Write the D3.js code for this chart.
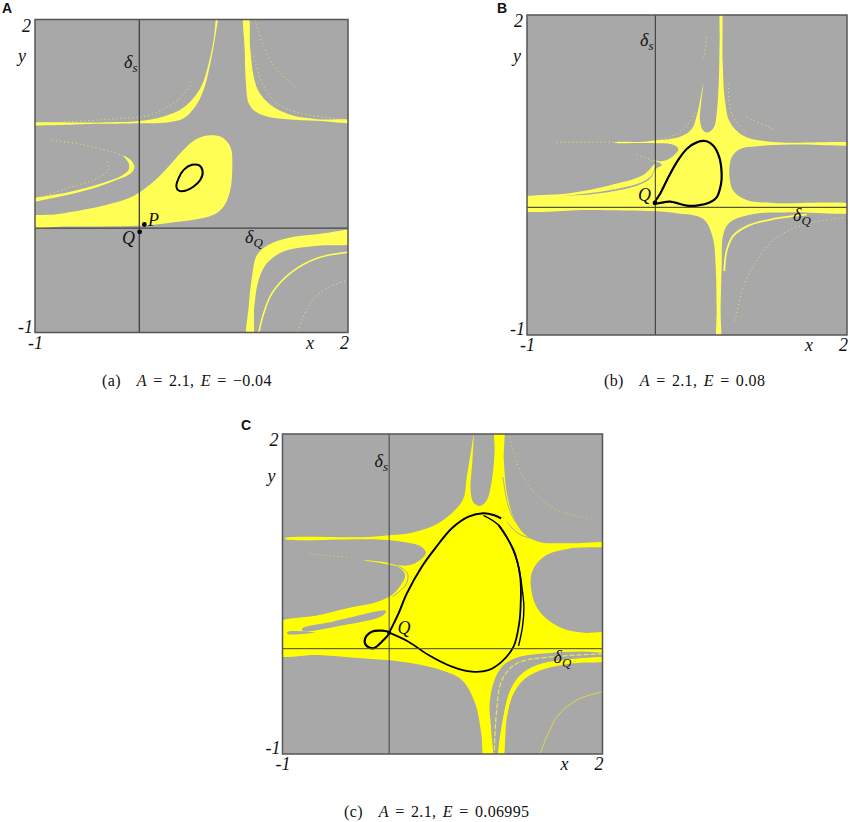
<!DOCTYPE html>
<html>
<head>
<meta charset="utf-8">
<script src="https://cdn.jsdelivr.net/npm/d3@7"></script>
<style>
	html, body { margin: 0; padding: 0; background: #fff; }
	text { font-family: "Liberation Serif", serif; fill: #111; }
	.panelLetter { font-family: "Liberation Sans", sans-serif; font-weight: bold; font-size: 14px; }
</style>
</head>
<body>
<svg id="figure" width="850" height="822"></svg>
<script>

// axis ends shared by the three basin plots, regions run a little past them
// so their closing curve stays outside the frame
var X_RANGE = [-1, 2];
var Y_RANGE = [-1, 2];

// panel A, A = 2.1, E = -0.04
var basinA = [[-1.1,.016],[-.693,.016],[-.374,.016],[0,.022],[.265,.048],[.521,.08],[.712,.128],[.808,.208],[.872,.367],[.891,.591],[.882,.751],[.84,.831],[.776,.879],[.681,.891],[.585,.872],[.489,.815],[.393,.719],[.265,.575],[.137,.447],[0,.342],[-.118,.281],[-.31,.224],[-.534,.176],[-.789,.134],[-1.1,.1]];
var upperRightA = [[1.003,2.1],[1.01,1.709],[1.022,1.39],[1.048,1.198],[1.112,1.118],[1.224,1.07],[1.415,1.045],[1.703,1.029],[2.1,1.01],[2.1,1.03],[1.703,1.045],[1.447,1.086],[1.256,1.182],[1.144,1.31],[1.096,1.454],[1.064,1.709],[1.038,2.1]];
var upperLeftA = [[-1.1,.994],[-.374,1],[0,1.006],[.265,1.013],[.425,1.054],[.537,1.166],[.617,1.326],[.681,1.581],[.728,1.837],[.76,2.1],[.75,2.1],[.712,1.805],[.665,1.581],[.601,1.374],[.505,1.23],[.393,1.134],[.233,1.07],[0,1.026],[-.374,1.013],[-1.1,1.003]];
var leftArcA = [[-1.1,.25],[-.693,.319],[-.406,.393],[-.214,.463],[-.102,.511],[-.048,.575],[-.07,.639],[-.15,.693],[-.102,.623],[-.102,.559],[-.166,.505],[-.374,.425],[-.693,.342],[-1.1,.265]];
var lowerRightA = [[2.1,-.028],[1.703,-.058],[1.415,-.096],[1.24,-.16],[1.128,-.256],[1.08,-.463],[1.048,-.751],[1.03,-1.1],[1.08,-1.1],[1.102,-.751],[1.144,-.495],[1.224,-.335],[1.383,-.224],[1.703,-.169],[2.1,-.133]];
var strandA = [[2.006,-.23],[1.703,-.288],[1.447,-.431],[1.272,-.623],[1.192,-.815],[1.144,-1.006]];
var fadedA = [
	[[2.006,-.495],[1.799,-.575],[1.639,-.719],[1.511,-1.006]],
	[[1.096,1.645],[1.192,1.358],[1.319,1.198],[1.543,1.102],[1.863,1.054],[2.006,1.038]],
	[[1.112,1.997],[1.192,1.741],[1.319,1.518],[1.511,1.342]],
	[[-.837,.84],[-.534,.799],[-.278,.735],[-.134,.687]],
	[[-1,.27],[-.69,.383],[-.438,.463],[-.294,.559],[-.31,.655]],
	[[-.757,1.016],[-.15,1.054],[.105,1.086],[.393,1.246],[.521,1.422]]
];
var cycleA = [[.355,.399],[.377,.479],[.425,.559],[.505,.607],[.575,.601],[.607,.543],[.585,.463],[.521,.399],[.441,.358],[.377,.361]];
var pointP = [.048, .035];
var pointQ = [.003, -.035];

// panel B, A = 2.1, E = 0.08
var basinB = [[-1.1,.26],[-.375,.321],[.03,.4],[.16,.47],[.2,.55],[.263,.597],[.184,.641],[.263,.628],[.356,.666],[.419,.744],[.372,.784],[.247,.797],[.1,.8],[-.175,.803],[-.175,.806],[.1,.812],[.184,.822],[.434,.859],[.544,.931],[.591,1.056],[.622,1.197],[.653,1.353],[.631,1.166],[.622,1.009],[.653,.916],[.7,.9],[.753,.947],[.778,1.072],[.797,1.353],[.806,1.759],[.813,2.1],[.822,2.1],[.834,1.572],[.856,1.197],[.903,.994],[1.028,.869],[1.309,.809],[2.1,.797],[2.1,.785],[1.466,.785],[1.153,.769],[.997,.744],[.919,.666],[.897,.509],[.934,.353],[1.059,.266],[1.309,.238],[2.1,.213],[2.1,.159],[1.466,.15],[1.122,.134],[.903,.056],[.841,-.053],[.825,-.366],[.815,-.75],[.81,-1.1],[.784,-1.1],[.778,-.75],[.769,-.366],[.741,-.084],[.653,.088],[.403,.141],[.2,.159],[-.409,.172],[-1.1,.181]];
var arcB = [[-1.1,.285],[-.6,.33],[-.22,.405],[.09,.5],[.2,.6],[.17,.5],[.09,.44],[-.22,.36],[-.6,.31],[-1.1,.265]];
var strandB = [[1.622,.128],[1.309,.088],[1.075,.025],[.935,-.069],[.872,-.209],[.85,-.4]];
var fadedB = [
	[[2,.103],[1.622,.041],[1.341,-.084],[1.153,-.303],[1.028,-.553],[.95,-.866]],
	[[-.722,.806],[-.175,.809]],
	[[.028,.691],[.216,.619]],
	[[.2,.541],[.028,.416],[-.253,.353]],
	[[1.059,1.041],[1.309,.931]],
	[[.684,1.791],[.653,1.572]],
	[[.888,1.353],[.919,1.072],[1.059,.884]],
	[[.184,.822],[.434,.9],[.591,1.103]]
];
var cycleB = [[.2,.238],[.247,.322],[.309,.447],[.403,.619],[.497,.744],[.591,.806],[.684,.816],[.747,.775],[.803,.666],[.825,.509],[.819,.416],[.778,.291],[.716,.244],[.591,.213],[.497,.213],[.341,.25]];
var pointQB = [.2, .238];

// panel C, A = 2.1, E = 0.06995
var basinC = [[-1.1,.205],[-.663,.3],[-.35,.375],[-.131,.42],[.025,.49],[.109,.584],[.15,.678],[.088,.75],[-.069,.788],[-.241,.816],[-.069,.803],[.088,.769],[.197,.772],[.291,.819],[.344,.888],[.291,.95],[.119,.991],[-.194,1.013],[-.975,1.015],[-.975,1.025],[-.194,1.034],[.025,1.053],[.213,1.075],[.431,1.147],[.619,1.288],[.697,1.397],[.728,1.6],[.769,1.85],[.791,1.991],[.781,1.756],[.763,1.475],[.791,1.356],[.853,1.325],[.916,1.381],[.963,1.569],[.988,1.819],[.997,2.1],[1.066,2.1],[1.075,1.756],[1.105,1.439],[1.166,1.22],[1.259,1.07],[1.4,.991],[1.681,.975],[2.1,.981],[2.1,.956],[1.681,.925],[1.463,.859],[1.347,.725],[1.328,.569],[1.4,.35],[1.588,.194],[1.806,.138],[2.1,.125],[2.1,-.03],[1.793,-.04],[1.48,-.055],[1.23,-.087],[1.073,-.165],[.99,-.3],[.942,-.524],[.956,-.775],[.964,-1.1],[.9,-1.1],[.863,-.806],[.806,-.525],[.681,-.306],[.431,-.197],[.119,-.134],[-.256,-.103],[-.663,-.072],[-1.1,-.06]];
var lowerStrandC = [[2.1,-.102],[1.636,-.118],[1.386,-.165],[1.23,-.259],[1.136,-.4],[1.076,-.618],[1.026,-1.1],[1.058,-1.1],[1.105,-.65],[1.167,-.431],[1.277,-.29],[1.448,-.205],[1.73,-.149],[2.1,-.125]];
var midStrandC = [[2,-.062],[1.48,-.093],[1.199,-.149],[1.058,-.306],[1.005,-.618],[.986,-.993]];
var faintCurveC = [[2,-.416],[1.761,-.493],[1.574,-.65],[1.417,-.993]];
var grayLensC = [[-.812,.179],[-.531,.241],[-.031,.341],[-.063,.295],[-.5,.194],[-.812,.154]];
var grayStripC = [[-.953,.147],[-.688,.138],[-.953,.126]];
var graySlitsC = [
	[[1.067,1.596],[1.12,1.314],[1.199,1.158],[1.323,1.064],[1.511,1.017]],
	[[1.105,1.173],[1.214,1.064],[1.386,1.008]],
	[[.063,.773],[.172,.695],[.156,.585],[.031,.476]]
];
var fadedC = [
	[[1.13,1.97],[1.199,1.72],[1.277,1.564],[1.403,1.408],[1.574,1.289],[1.887,1.204]],
	[[-.741,.875],[-.381,.844]]
];
var upperOrbitC = [[0,.1375],[.088,.319],[.166,.506],[.306,.756],[.431,.928],[.588,1.116],[.744,1.225],[.884,1.256],[.978,1.241],[1.05,1.209]];
var rightOrbitC = [[.884,1.238],[1.025,1.147],[1.134,.975],[1.213,.756],[1.244,.569],[1.263,.381],[1.25,.194],[1.213,.013]];
var lowerOrbitC = [[1.025,1.147],[1.166,.913],[1.228,.663],[1.234,.444],[1.219,.225],[1.166,.006],[1.056,-.134],[.931,-.213],[.775,-.228],[.588,-.181],[.369,-.072],[.181,.053],[0,.1375]];
var smallLoopC = [[0,.1375],[-.069,.156],[-.163,.147],[-.225,.084],[-.219,.022],[-.147,-.009],[-.069,.053]];

var GRAY = "#a8a8a8";
var svg = d3.select("#figure");


// sets up one square plot and its scales
function createPanel(id, left, top, size) {

	var g = svg.append("g").attr("transform", "translate(" + left + "," + top + ")");

	var x = d3.scaleLinear().domain(X_RANGE).range([0, size]);
	var y = d3.scaleLinear().domain(Y_RANGE).range([size, 0]);

	svg.append("clipPath").attr("id", "clip" + id)
		.append("rect").attr("width", size).attr("height", size);

	g.append("rect")
		.attr("width", size)
		.attr("height", size)
		.style("fill", GRAY);

	var plot = g.append("g").attr("clip-path", "url(#clip" + id + ")");

	return { g: g, plot: plot, x: x, y: y, size: size };
}


function region(panel, points, fill) {

	var shape = d3.line()
		.x(function(d) { return panel.x(d[0]); })
		.y(function(d) { return panel.y(d[1]); })
		.curve(d3.curveCatmullRomClosed.alpha(0.5));

	panel.plot.append("path")
		.attr("d", shape(points))
		.style("fill", fill);
}


function curve(panel, points, colour, width, dash) {

	var shape = d3.line()
		.x(function(d) { return panel.x(d[0]); })
		.y(function(d) { return panel.y(d[1]); })
		.curve(d3.curveCatmullRom.alpha(0.5));

	panel.plot.append("path")
		.attr("d", shape(points))
		.style("fill", "none")
		.style("stroke", colour)
		.style("stroke-width", width)
		.style("stroke-dasharray", dash || null);
}


function loop(panel, points, colour, width) {

	var shape = d3.line()
		.x(function(d) { return panel.x(d[0]); })
		.y(function(d) { return panel.y(d[1]); })
		.curve(d3.curveCatmullRomClosed.alpha(0.5));

	panel.plot.append("path")
		.attr("d", shape(points))
		.style("fill", "none")
		.style("stroke", colour)
		.style("stroke-width", width);
}


// separatrix lines, frame and the labels every panel shares
function finishPanel(panel, sx, sy, lineColour, lineWidth, yLabelX, yLabelY) {

	panel.g.append("line")
		.attr("x1", panel.x(sx)).attr("x2", panel.x(sx))
		.attr("y1", 0).attr("y2", panel.size)
		.style("stroke", lineColour).style("stroke-width", lineWidth);

	panel.g.append("line")
		.attr("x1", 0).attr("x2", panel.size)
		.attr("y1", panel.y(sy)).attr("y2", panel.y(sy))
		.style("stroke", lineColour).style("stroke-width", lineWidth);

	panel.g.append("rect")
		.attr("width", panel.size)
		.attr("height", panel.size)
		.style("fill", "none")
		.style("stroke", "#555")
		.style("stroke-width", 1.5);

	italic(panel, "2", -4, 12, "end");
	italic(panel, "y", yLabelX, yLabelY);
	italic(panel, "-1", -2, panel.size, "end");
	italic(panel, "-1", -7, panel.size + 16);
	italic(panel, "x", panel.size - 42, panel.size + 16);
	italic(panel, "2", panel.size - 8, panel.size + 16);
}


function italic(panel, label, px, py, anchor) {

	panel.g.append("text")
		.attr("x", px)
		.attr("y", py)
		.attr("text-anchor", anchor || "start")
		.style("font-style", "italic")
		.style("font-size", "18px")
		.text(label);
}


function delta(panel, sub, px, py) {

	var t = panel.g.append("text")
		.attr("x", px)
		.attr("y", py)
		.style("font-style", "italic")
		.style("font-size", "18px");

	t.append("tspan").text("\u03b4");
	t.append("tspan").attr("dy", 4).style("font-size", "13px").text(sub);
}


function dot(panel, point, radius) {

	panel.g.append("circle")
		.attr("cx", panel.x(point[0]))
		.attr("cy", panel.y(point[1]))
		.attr("r", radius)
		.style("fill", "#000");
}


function caption(tag, a, e, px, py) {

	var t = svg.append("text")
		.attr("x", px)
		.attr("y", py)
		.attr("xml:space", "preserve")
		.style("font-size", "16px")
		.style("letter-spacing", "0.35px")
		.style("word-spacing", "2px");

	t.append("tspan").text(tag);
	t.append("tspan").attr("dx", 16).style("font-style", "italic").text("A");
	t.append("tspan").text(" = " + a + ", ");
	t.append("tspan").style("font-style", "italic").text("E");
	t.append("tspan").text(" = " + e);
}


function letter(label, px, py) {

	svg.append("text")
		.attr("class", "panelLetter")
		.attr("x", px)
		.attr("y", py)
		.text(label);
}


// panel A
var panelA = createPanel("A", 35, 19.5, 313);
var softYellow = "#ffff55";
region(panelA, basinA, softYellow);
region(panelA, upperRightA, softYellow);
region(panelA, upperLeftA, softYellow);
region(panelA, leftArcA, softYellow);
region(panelA, lowerRightA, softYellow);
curve(panelA, strandA, softYellow, 1.6);
fadedA.forEach(function(d) { curve(panelA, d, "#e6e66a", 1, "1 3"); });
loop(panelA, cycleA, "#000", 2);
finishPanel(panelA, 0, 0, "#444", 1.4, -17, 42);
dot(panelA, pointP, 2.4);
dot(panelA, pointQ, 2.4);
italic(panelA, "P", 113, 206);
italic(panelA, "Q", 87, 224);
delta(panelA, "s", 89, 48);
delta(panelA, "Q", 210, 223);

// panel B
var panelB = createPanel("B", 527, 15, 320);
region(panelB, basinB, softYellow);
region(panelB, arcB, softYellow);
curve(panelB, strandB, softYellow, 1.8);
fadedB.forEach(function(d) { curve(panelB, d, "#e6e66a", 1, "1 3"); });
loop(panelB, cycleB, "#000", 2.2);
finishPanel(panelB, .203, .197, "#333", 1, -14, 47);
dot(panelB, pointQB, 2.4);
italic(panelB, "Q", 111, 186);
delta(panelB, "s", 113, 31);
delta(panelB, "Q", 266, 206);

// panel C
var panelC = createPanel("C", 282.5, 434, 320);
var pureYellow = "#ffff00";
region(panelC, basinC, pureYellow);
region(panelC, lowerStrandC, pureYellow);
region(panelC, grayLensC, GRAY);
region(panelC, grayStripC, GRAY);
curve(panelC, midStrandC, "#eaea40", 1.2, "5 2");
curve(panelC, faintCurveC, "#dcdc3c", 1);
graySlitsC.forEach(function(d) { curve(panelC, d, GRAY, 1); });
fadedC.forEach(function(d) { curve(panelC, d, "#dede50", 1, "1 3"); });
curve(panelC, upperOrbitC, "#000", 2);
curve(panelC, rightOrbitC, "#000", 1.4);
curve(panelC, lowerOrbitC, "#000", 1.8);
loop(panelC, smallLoopC, "#000", 2.2);
finishPanel(panelC, 0, -.0125, "#444", 1, -15, 48);
dot(panelC, [0, .1375], 2);
italic(panelC, "Q", 115, 200);
delta(panelC, "s", 92, 33);
delta(panelC, "Q", 271, 229);

letter("A", 2, 13);
letter("B", 497, 13);
letter("C", 241, 430);

caption("(a)", "2.1", "\u22120.04", 102, 386);
caption("(b)", "2.1", "0.08", 604, 386);
caption("(c)", "2.1", "0.06995", 344, 817);

</script>
</body>
</html>
